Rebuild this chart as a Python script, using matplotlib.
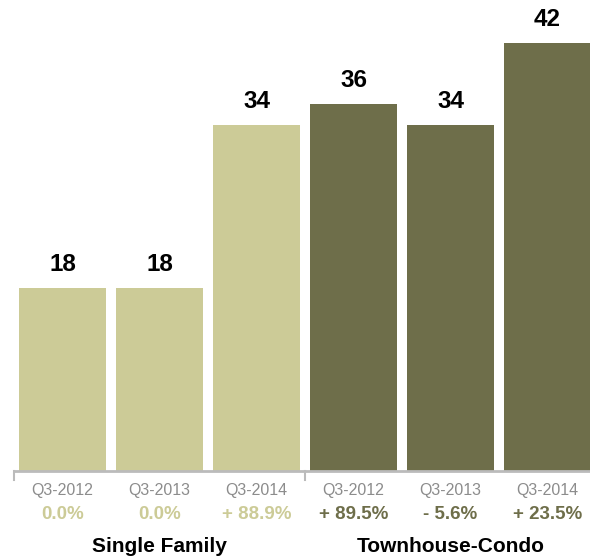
import matplotlib.pyplot as plt

plt.rcParams['font.family'] = ['Liberation Sans', 'DejaVu Sans']

quarters = ["Q3-2012", "Q3-2013", "Q3-2014", "Q3-2012", "Q3-2013", "Q3-2014"]
values = [18, 18, 34, 36, 34, 42]
changes = ["0.0%", "0.0%", "+ 88.9%", "+ 89.5%", "- 5.6%", "+ 23.5%"]
groups = ["Single Family", "Townhouse-Condo"]

light = "#cccb97"
dark = "#6e6e4a"
colors = [light] * 3 + [dark] * 3

fig = plt.figure(figsize=(5.9, 5.6), dpi=100)
ax = fig.add_axes([0, 89 / 560, 1, 471 / 560])
x = list(range(len(values)))
ax.bar(x, values, width=0.907, color=colors)
ax.set_xlim(-62.5 / 97, (590 - 62.5) / 97)
ax.set_ylim(0, 471 / 10.19)
ax.axis('off')

# axis line with group ticks
ax.plot([-0.5, 5.5], [0, 0], color="#bbbbbb", lw=2, clip_on=False)
for tx in [-0.5, 2.5]:
    ax.plot([tx, tx], [0, -0.9], color="#bbbbbb", lw=1.5, clip_on=False)

for i, v in enumerate(values):
    ax.text(i, v + 2.3, str(v), ha='center', va='center', fontsize=17.5, fontweight='bold')
    ax.text(i, -1.95, quarters[i], ha='center', va='center', fontsize=11.5, color="#8c8c8c")
    ax.text(i, -4.25, changes[i], ha='center', va='center', fontsize=13.5, fontweight='bold',
            color=colors[i])

for gi, g in enumerate(groups):
    ax.text(gi * 3 + 1, -7.4, g, ha='center', va='center', fontsize=15, fontweight='bold')

fig.savefig("out.png", dpi=100)
